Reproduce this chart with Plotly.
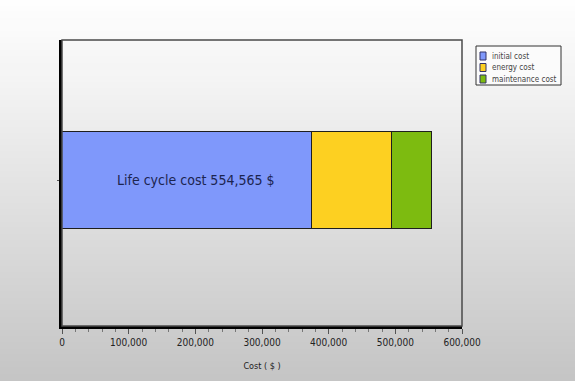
import plotly.graph_objects as go

# Life cycle cost breakdown ($)
categories = ["Cost"]
component_names = ["initial cost", "energy cost", "maintenance cost"]
component_values = [374800, 120700, 59065]
component_colors = ["#7f98fb", "#fdd021", "#7dbb10"]
x_tick_values = [0, 100000, 200000, 300000, 400000, 500000, 600000]
x_tick_labels = ["0", "100,000", "200,000", "300,000", "400,000", "500,000", "600,000"]

total_cost = sum(component_values)
narrow = "DejaVu Sans Condensed, Liberation Sans Narrow, Liberation Sans, sans-serif"

W, H = 575, 381
L, R, T, B = 62, 113, 40, 55
plot_w = W - L - R
plot_h = H - T - B


def px_x(px):
    return (px - L) / plot_w


def px_y(py):
    return (H - B - py) / plot_h


fig = go.Figure()
for name, value, color in zip(component_names, component_values, component_colors):
    fig.add_trace(go.Bar(
        y=categories, x=[value], name=name, orientation="h",
        marker=dict(color=color, line=dict(color="#1e1e1e", width=1)),
        width=0.34, hoverinfo="x+name",
    ))

shapes = []
annotations = []

# vertical grey gradient behind the whole figure
n_bands = 60
for i in range(n_bands):
    f0 = i / n_bands
    f1 = (i + 1) / n_bands
    c = int(round(254 - (254 - 196) * ((f0 + f1) / 2) ** 1.1))
    shapes.append(dict(type="rect", xref="paper", yref="paper",
                       x0=px_x(-5), x1=px_x(W + 5),
                       y0=px_y(f1 * H), y1=px_y(f0 * H) + 0.003,
                       fillcolor=f"rgb({c},{c},{c})", line=dict(width=0),
                       layer="below"))
# plot frame
shapes.append(dict(type="rect", xref="paper", yref="paper", x0=0, x1=1, y0=0, y1=1,
                   line=dict(color="#4a4a4a", width=1.5), layer="above"))

# legend box with swatches
shapes.append(dict(type="rect", xref="paper", yref="paper",
                   x0=px_x(476), x1=px_x(561), y0=px_y(85), y1=px_y(46),
                   fillcolor="#fbfbfb", line=dict(color="#333333", width=1), layer="above"))
for k, (name, color) in enumerate(zip(component_names, component_colors)):
    cy = 56 + k * 11.5
    shapes.append(dict(type="rect", xref="paper", yref="paper",
                       x0=px_x(480), x1=px_x(486), y0=px_y(cy + 4), y1=px_y(cy - 4),
                       fillcolor=color, line=dict(color="#333366", width=1), layer="above"))
    annotations.append(dict(x=px_x(490), y=px_y(cy), xref="paper", yref="paper",
                            xanchor="left", yanchor="middle", showarrow=False,
                            text=name, font=dict(family=narrow, size=8, color="#444444")))

annotations.append(dict(
    x=199500, y=0, xref="x", yref="y", showarrow=False,
    text=f"Life cycle cost {total_cost:,} $",
    font=dict(family=narrow, size=14, color="#1c2550"),
))

fig.update_layout(
    width=W, height=H,
    margin=dict(l=L, r=R, t=T, b=B),
    paper_bgcolor="rgba(0,0,0,0)",
    plot_bgcolor="rgba(0,0,0,0)",
    barmode="stack",
    bargap=0,
    shapes=shapes,
    annotations=annotations,
    showlegend=False,
    xaxis=dict(
        range=[0, 600000], tickvals=x_tick_values, ticktext=x_tick_labels,
        showgrid=False, zeroline=False,
        showline=True, linecolor="#000000", linewidth=2.5,
        ticks="outside", ticklen=5, tickcolor="#555555", tickwidth=1,
        minor=dict(dtick=20000, ticks="outside", ticklen=3, tickcolor="#777777"),
        tickfont=dict(family=narrow, size=10, color="#222222"),
        title=dict(text="Cost ( $ )", font=dict(family=narrow, size=9, color="#222222"),
                   standoff=16),
    ),
    yaxis=dict(
        range=[-0.51, 0.49], showticklabels=False, showgrid=False, zeroline=False,
        showline=True, linecolor="#000000", linewidth=2.5,
        ticks="outside", ticklen=2, tickcolor="#555555",
    ),
)

fig.write_html("out.html")
